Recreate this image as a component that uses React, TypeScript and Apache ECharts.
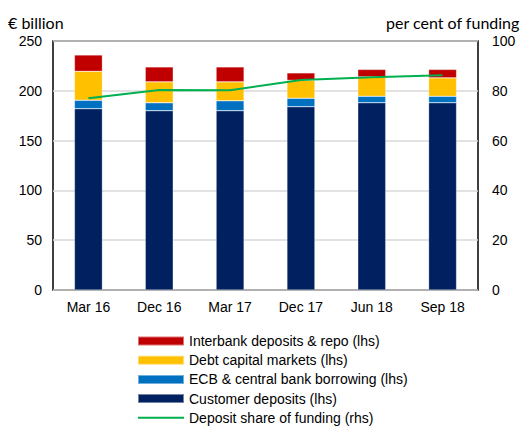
import React, { useEffect, useRef } from "react";
import * as echarts from "echarts";

const categories = ["Mar 16", "Dec 16", "Mar 17", "Dec 17", "Jun 18", "Sep 18"];
const customerDeposits = [182, 180, 180, 184, 188, 188];
const ecbBorrowing = [8.5, 8, 10, 8.5, 6.5, 6.5];
const debtCapitalMarkets = [29, 21, 19, 18, 19.5, 18.5];
const interbankRepo = [16.5, 15, 15, 7.5, 7.5, 8.5];
const depositShare = [77, 80.3, 80.2, 84.3, 85.4, 86.2];
const leftTicks = { min: 0, max: 250, interval: 50 };
const rightTicks = { min: 0, max: 100, interval: 20 };

const FONT = "'Liberation Sans', Arial, sans-serif";
const FS = 14;

export default function App() {
  const ref = useRef<HTMLDivElement>(null);
  useEffect(() => {
    if (!ref.current) return;
    const chart = echarts.init(ref.current, undefined, { renderer: "svg" });
    const barBase = {
      type: "bar" as const,
      stack: "total",
      barWidth: 28,
      yAxisIndex: 0,
      itemStyle: { borderColor: "rgba(255,255,255,0.45)", borderWidth: 0.6 },
    };
    chart.setOption({
      animation: false,
      textStyle: { fontFamily: FONT },
      grid: {
        left: 53,
        right: 44,
        top: 41,
        bottom: 136,
        show: true,
        borderColor: "#000",
        borderWidth: 1.5,
        backgroundColor: "transparent",
      },
      graphic: [
        {
          type: "text",
          left: 8,
          top: 14,
          style: { text: "€ billion", fontSize: 16, fontFamily: "Lato", fill: "#000" },
        },
        {
          type: "text",
          right: 2,
          top: 14,
          style: { text: "per cent of funding", fontSize: 16, fontFamily: "Lato", fill: "#000" },
        },
      ],
      legend: {
        orient: "vertical",
        left: 132,
        top: 329,
        height: 110,
        itemWidth: 46,
        itemHeight: 9,
        itemGap: 5.2,
        symbolKeepAspect: true,
        textStyle: { fontFamily: FONT, fontSize: FS, lineHeight: 14, color: "#000" },
        data: [
          { name: "Interbank deposits & repo (lhs)", icon: "rect" },
          { name: "Debt capital markets (lhs)", icon: "rect" },
          { name: "ECB & central bank borrowing (lhs)", icon: "rect" },
          { name: "Customer deposits (lhs)", icon: "rect" },
          {
            name: "Deposit share of funding (rhs)",
            icon: "path://M0,0H46V2H0Z",
            itemStyle: { color: "#00B050" },
          },
        ],
      },
      xAxis: {
        type: "category",
        data: categories,
        axisLine: { show: false },
        axisTick: { show: false },
        axisLabel: { color: "#000", fontSize: FS, fontFamily: FONT, margin: 10 },
      },
      yAxis: [
        {
          type: "value",
          ...leftTicks,
          axisLine: { show: false },
          axisTick: { show: false },
          axisLabel: { color: "#000", fontSize: FS, fontFamily: FONT, margin: 11 },
          splitLine: { lineStyle: { color: "#d9d9d9", width: 1.5 } },
        },
        {
          type: "value",
          ...rightTicks,
          position: "right",
          axisLine: { show: false },
          axisTick: { show: false },
          axisLabel: { color: "#000", fontSize: FS, fontFamily: FONT, margin: 14 },
          splitLine: { show: false },
        },
      ],
      series: [
        { ...barBase, name: "Customer deposits (lhs)", data: customerDeposits, itemStyle: { ...barBase.itemStyle, color: "#002060" } },
        { ...barBase, name: "ECB & central bank borrowing (lhs)", data: ecbBorrowing, itemStyle: { ...barBase.itemStyle, color: "#0070C0" } },
        { ...barBase, name: "Debt capital markets (lhs)", data: debtCapitalMarkets, itemStyle: { ...barBase.itemStyle, color: "#FFC000" } },
        { ...barBase, name: "Interbank deposits & repo (lhs)", data: interbankRepo, itemStyle: { ...barBase.itemStyle, color: "#C00000" } },
        {
          type: "line",
          name: "Deposit share of funding (rhs)",
          yAxisIndex: 1,
          data: depositShare,
          symbol: "none",
          showSymbol: false,
          lineStyle: { color: "#00B050", width: 2 },
          itemStyle: { color: "#00B050" },
          z: 5,
        },
      ],
    });
    return () => chart.dispose();
  }, []);
  return <div ref={ref} style={{ width: 522, height: 426, position: "absolute", left: 0, top: 0 }} />;
}
